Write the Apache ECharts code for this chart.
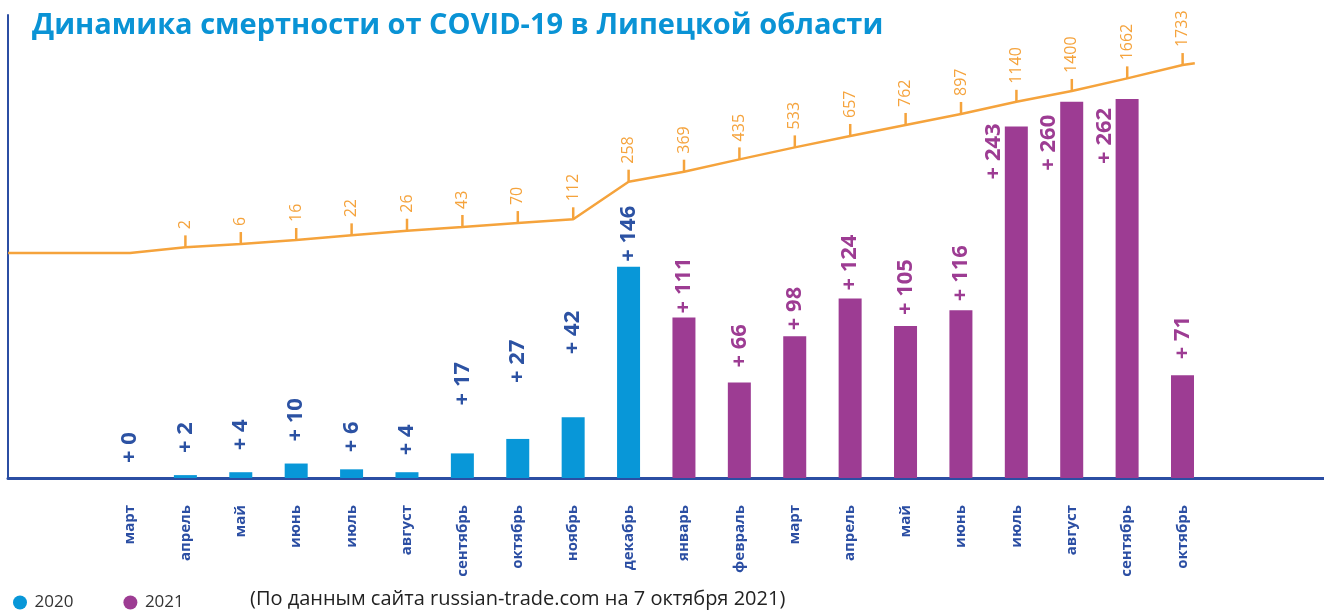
<!DOCTYPE html>
<html><head><meta charset="utf-8">
<script src="https://cdn.jsdelivr.net/npm/echarts@6/dist/echarts.min.js"></script>
<style>html,body{margin:0;padding:0;background:#fff}#c{width:1324px;height:611px}</style>
</head><body><div id="c"></div>
<script>
// ---- data ----
const months = ['март','апрель','май','июнь','июль','август','сентябрь','октябрь','ноябрь','декабрь',
                'январь','февраль','март','апрель','май','июнь','июль','август','сентябрь','октябрь'];
const years = ['2020','2021'];
const monthYear = ['2020','2020','2020','2020','2020','2020','2020','2020','2020','2020',
                   '2021','2021','2021','2021','2021','2021','2021','2021','2021','2021'];
const monthlyDeaths = [0,2,4,10,6,4,17,27,42,146,111,66,98,124,105,116,243,260,262,71];
const cumulativeDeaths = [null,2,6,16,22,26,43,70,112,258,369,435,533,657,762,897,1140,1400,1662,1733];
// the cumulative line in the source is schematic (not to scale): its height, in bar-axis units
const lineLevel = [155.5,159.4,161.7,164.5,167.7,170.9,173.5,176.2,178.8,204.8,211.7,220.2,228.5,236.4,244,251.6,260,267.5,276.2,285.4];
const lineLead = [-2.2, 155.5];   // line starts at the vertical axis
const lineTail = [19.22, 286.6];  // short overhang after the last month
const title = 'Динамика смертности от COVID-19 в Липецкой области';
const note = '(По данным сайта russian-trade.com на 7 октября 2021)';

// ---- styles ----
const FONT = '"Open Sans", "DejaVu Sans", sans-serif';
const C2020 = '#0897d8', C2021 = '#9d3c93', LBL2020 = '#2c52a3', AXIS = '#2b4ea3', ORANGE = '#f5a33c';
const labelGap = [15,22,22,22,17,17,48,56,63,5, 4,15,6,8,11,9,null,null,null,16];
const sideLabel = {16:[-11,53],17:[-11,69],18:[-11,65]};

function barData(year){
  return monthlyDeaths.map((v,i)=>{
    if (monthYear[i] !== year) return '-';
    const item = {value: v, label: {}};
    if (sideLabel[i]) { item.label.position = sideLabel[i]; }
    else { item.label.distance = labelGap[i]; }
    return item;
  });
}
function barSeries(year, color, lblColor){
  return {
    name: year, type: 'bar', xAxisIndex: 0, yAxisIndex: 0, barWidth: 23, barGap: '-100%',
    itemStyle: {color: color},
    label: {show: true, position: 'top', rotate: 90, align: 'left', verticalAlign: 'middle',
      formatter: p => '+ ' + p.value, color: lblColor, fontSize: 22, fontWeight: 'bold', fontFamily: FONT},
    data: barData(year)
  };
}
const lineData = [{value: lineLead, symbol: 'none', label: {show: false}}]
  .concat(lineLevel.map((lv,i)=> cumulativeDeaths[i] == null
     ? {value:[i,lv], symbol:'none', label:{show:false}}
     : {value:[i,lv], name: String(cumulativeDeaths[i])}))
  .concat([{value: lineTail, symbol: 'none', label: {show: false}}]);

const chart = echarts.init(document.getElementById('c'), null, {renderer: 'canvas'});
chart.setOption({
  animation: false,
  textStyle: {fontFamily: FONT},
  title: [
    {text: title, left: 27, top: 6, textStyle: {color: '#0a93d5', fontSize: 29, fontWeight: 'bold', fontFamily: FONT}},
    {text: note, left: 245, top: 584, textStyle: {color: '#222', fontSize: 20, fontWeight: 'normal', fontFamily: FONT}}
  ],
  legend: {data: years, left: 8, top: 589, icon: 'circle', itemWidth: 19, itemHeight: 14, itemGap: 50,
    textStyle: {fontSize: 17, color: '#333', fontFamily: FONT}},
  grid: [
    {left: 102.3, right: 113.8, top: 15, bottom: 133},
    {left: 8, right: 0, top: 15, bottom: 133}
  ],
  xAxis: [
    {type: 'category', gridIndex: 0, data: months, axisLine: {show: false}, axisTick: {show: false},
     axisLabel: {rotate: 90, margin: 27, color: AXIS, fontSize: 15, fontWeight: 'bold', fontFamily: FONT, interval: 0}},
    {type: 'value', gridIndex: 1, min: -2.2022, max: 21.552,
     axisLine: {show: true, onZero: false, lineStyle: {color: AXIS, width: 3}},
     axisTick: {show: false}, axisLabel: {show: false}, splitLine: {show: false}}
  ],
  yAxis: [
    {type: 'value', gridIndex: 0, min: 0, max: 320, show: false},
    {type: 'value', gridIndex: 1, min: 0, max: 320,
     axisLine: {show: true, onZero: false, lineStyle: {color: AXIS, width: 2}},
     axisTick: {show: false}, axisLabel: {show: false}, splitLine: {show: false}}
  ],
  series: [
    barSeries('2020', C2020, LBL2020),
    barSeries('2021', C2021, C2021),
    {type: 'line', xAxisIndex: 1, yAxisIndex: 1, data: lineData, z: 3,
     lineStyle: {color: ORANGE, width: 2.5}, itemStyle: {color: ORANGE},
     symbol: 'rect', symbolSize: [2.5, 12], symbolOffset: [0, -6], showSymbol: true,
     label: {show: true, position: 'top', distance: 6, rotate: 90, align: 'left', verticalAlign: 'middle',
       formatter: p => p.name, color: ORANGE, fontSize: 16, fontFamily: FONT}}
  ]
});
</script></body></html>
